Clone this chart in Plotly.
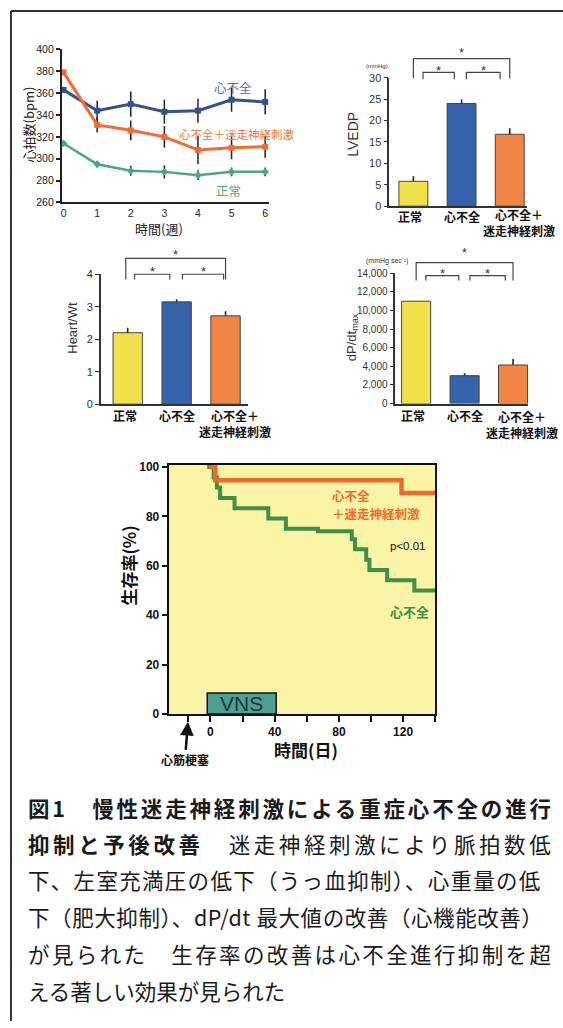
import plotly.graph_objects as go

W, H = 563, 1028
def PX(x): return x / W
def PY(y): return 1 - y / H

# ---------------- data ----------------
weeks = [0, 1, 2, 3, 4, 5, 6]
week_ticks = ["0", "1", "2", "3", "4", "5", "6"]
hr_hf = [363, 344, 350, 343, 344, 354, 352]
hr_hf_sd = [0, 9, 11.5, 11, 11, 11, 11.5]
hr_vns = [379, 331, 326, 320, 308, 310, 311]
hr_vns_sd = [0, 7, 9, 10, 13, 10.5, 10]
hr_norm = [314, 295, 289, 288, 285, 288, 288]
hr_norm_sd = [0, 3, 4.5, 6, 4.5, 4, 4]

groups = ["正常", "心不全", "心不全＋<br>迷走神経刺激"]
group_pos = [0, 1, 2]
lvedp = [5.8, 24.0, 16.8]
lvedp_sd = [1.2, 0.9, 1.4]
heart_wt = [2.2, 3.15, 2.72]
heart_wt_sd = [0.15, 0.08, 0.14]
dpdt = [11000, 3000, 4150]
dpdt_sd = [0, 250, 650]

vns_days = [-1, 3, 119, 140]
vns_surv = [100, 94.7, 89.5, 89.5]
hf_days = [-2, 2, 4, 6, 15, 36, 47, 67, 88, 90, 97, 99, 110, 127, 140]
hf_surv = [100, 95.8, 91.7, 87.5, 83.3, 79.2, 75, 74, 70.8, 66.7, 62.5, 58.3, 54.2, 50, 50]
vns_period = [-2, 41]
vns_bar_height = 8.5
mi_day = -14
day_ticks = [0, 40, 80, 120]
day_minor = [-14, 20, 60, 100, 140]

# caption: list of (text, bold) segments per line
caption_lines = [
    [("図1　慢性迷走神経刺激による重症心不全の進行", True)],
    [("抑制と予後改善", True), ("　迷走神経刺激により脈拍数低", False)],
    [("下、左室充満圧の低下（うっ血抑制）、心重量の低", False)],
    [("下（肥大抑制）、dP/dt 最大値の改善（心機能改善）", False)],
    [("が見られた　生存率の改善は心不全進行抑制を超", False)],
    [("える著しい効果が見られた", False)],
]

# ---------------- colours ----------------
C_HF = "#34508f"
C_VNS = "#f26a36"
C_NORM = "#4aa58a"
BAR_COLORS = ["#efe24a", "#3763ad", "#f08545"]
SURV_VNS = "#ee6a2c"
SURV_HF = "#3f8f45"
NARROW = "Liberation Sans Narrow, Liberation Sans, Arial"
ARIAL = "Liberation Sans, Arial"
CJK = "Noto Sans CJK JP"

fig = go.Figure()

# ---- heart rate line chart ----
for ys, sd, col, sym, lw in [
    (hr_norm, hr_norm_sd, C_NORM, "diamond", 2.5),
    (hr_hf, hr_hf_sd, C_HF, "square", 3),
    (hr_vns, hr_vns_sd, C_VNS, "square", 3),
]:
    fig.add_trace(go.Scatter(
        x=weeks, y=ys, mode="lines+markers",
        line=dict(color=col, width=lw),
        marker=dict(symbol=sym, size=6, color=col),
        error_y=dict(type="data", array=sd, width=0, thickness=1.5, color="#222"),
        xaxis="x", yaxis="y", cliponaxis=False, showlegend=False))

# ---- bar charts ----
for vals, sd, ax in [(lvedp, lvedp_sd, "2"), (heart_wt, heart_wt_sd, "3"), (dpdt, dpdt_sd, "4")]:
    fig.add_trace(go.Bar(
        x=group_pos, y=vals, width=0.6,
        marker=dict(color=BAR_COLORS, line=dict(color="#444", width=1)),
        error_y=dict(type="data", symmetric=False, array=sd, arrayminus=[0, 0, 0],
                     width=0, thickness=1.6, color="#222"),
        xaxis="x" + ax, yaxis="y" + ax, showlegend=False))

# ---- survival ----
fig.add_trace(go.Scatter(x=hf_days, y=hf_surv, mode="lines", line=dict(color=SURV_HF, width=4, shape="hv"),
                         xaxis="x5", yaxis="y5", showlegend=False))
fig.add_trace(go.Scatter(x=vns_days, y=vns_surv, mode="lines", line=dict(color=SURV_VNS, width=4.5, shape="hv"),
                         xaxis="x5", yaxis="y5", showlegend=False))

def base_axis(**kw):
    d = dict(showgrid=False, zeroline=False, showline=True, linecolor="#333", linewidth=1.5)
    d.update(kw)
    return d

layout = dict(
    width=W, height=H, margin=dict(l=0, r=0, t=0, b=0),
    paper_bgcolor="white", plot_bgcolor="rgba(0,0,0,0)", showlegend=False,
    font=dict(family=CJK, color="#222"),
    xaxis=base_axis(domain=[PX(61), PX(268)], range=[-0.05, 6.1], anchor="y", linewidth=2, linecolor="#222",
                    tickvals=weeks, ticktext=week_ticks, ticks="", ticklen=0,
                    tickfont=dict(family=NARROW, size=10.5, color="#222")),
    yaxis=base_axis(domain=[PY(199), PY(44)], range=[260, 400], dtick=20, anchor="x", linewidth=2, linecolor="#222",
                    ticks="outside", ticklen=4, tickwidth=1.5, tickcolor="#222",
                    tickfont=dict(family=NARROW, size=10.5, color="#222")),
    xaxis2=base_axis(domain=[PX(389), PX(527)], range=[-0.5, 2.36], anchor="y2", showticklabels=False, ticks=""),
    yaxis2=base_axis(domain=[PY(202.7), PY(72.7)], range=[0, 30], dtick=5, anchor="x2",
                     ticks="outside", ticklen=4, tickcolor="#333", tickfont=dict(family=ARIAL, size=11, color="#333")),
    xaxis3=base_axis(domain=[PX(100), PX(247)], range=[-0.55, 2.45], anchor="y3", showticklabels=False, ticks=""),
    yaxis3=base_axis(domain=[PY(403.3), PY(271.7)], range=[0, 4], dtick=1, anchor="x3",
                     ticks="outside", ticklen=4, tickcolor="#333", tickfont=dict(family=ARIAL, size=11, color="#333")),
    xaxis4=base_axis(domain=[PX(395), PX(528)], range=[-0.43, 2.31], anchor="y4", showticklabels=False, ticks=""),
    yaxis4=base_axis(domain=[PY(402.7), PY(270.7)], range=[0, 14000], dtick=2000, tickformat=",d", anchor="x4",
                     ticks="outside", ticklen=4, tickcolor="#333", tickfont=dict(family=ARIAL, size=10, color="#333")),
    xaxis5=base_axis(domain=[PX(168), PX(435)], range=[-26, 140], anchor="y5", mirror=True, linewidth=2, linecolor="#111",
                     tickvals=day_ticks, ticks="outside", ticklen=6, tickwidth=2, tickcolor="#111",
                     minor=dict(tickvals=day_minor, ticks="outside", ticklen=6, tickwidth=2, tickcolor="#111"),
                     tickfont=dict(family=ARIAL, size=12, color="#111", weight="bold")),
    yaxis5=base_axis(domain=[PY(717), PY(465)], range=[0, 100.8], anchor="x5", mirror=True, linewidth=2, linecolor="#111",
                     tickvals=[0, 20, 40, 60, 80, 100], ticks="outside", ticklen=5, tickwidth=2, tickcolor="#111",
                     tickfont=dict(family=ARIAL, size=12, color="#111", weight="bold")),
)
fig.update_layout(**layout)

shapes = []
ann = []

# page frame
shapes.append(dict(type="line", xref="paper", yref="paper", x0=PX(10), x1=1, y0=PY(5), y1=PY(5), line=dict(color="#333", width=2)))
shapes.append(dict(type="line", xref="paper", yref="paper", x0=PX(10), x1=PX(10), y0=PY(5), y1=0, line=dict(color="#333", width=2)))

# survival background & VNS box
shapes.append(dict(type="rect", xref="x5 domain", yref="y5 domain", x0=0, x1=1, y0=0, y1=1,
                   fillcolor="#faf5a6", line=dict(width=0), layer="below"))
shapes.append(dict(type="rect", xref="x5", yref="y5", x0=vns_period[0], x1=vns_period[1], y0=0, y1=vns_bar_height,
                   fillcolor="#4f9e90", line=dict(color="#111", width=1.5), layer="above"))
ann.append(dict(xref="x5", yref="y5", x=(vns_period[0] + vns_period[1]) / 2, y=vns_bar_height / 2, text="VNS",
                xanchor="center", yanchor="middle",
                showarrow=False, font=dict(family=ARIAL, size=21, color="#173a3c")))

# brackets
def bracket(ax, x0, x1, yt, yb, star_y):
    shapes.append(dict(type="path", xref="x" + ax, yref="paper",
                       path=f"M {x0},{PY(yb)} L {x0},{PY(yt)} L {x1},{PY(yt)} L {x1},{PY(yb)}",
                       line=dict(color="#444", width=1.2)))
    ann.append(dict(xref="x" + ax, yref="paper", x=(x0 + x1) / 2, y=PY(star_y), text="*", showarrow=False,
                    xanchor="center", yanchor="middle",
                    font=dict(family=ARIAL, size=13, color="#333")))

bracket("2", 0, 2, 53.3, 73.3, 47)
bracket("2", 0.2, 0.85, 67.3, 74.3, 65)
bracket("2", 1.1, 1.8, 67.3, 74.3, 65)
bracket("3", -0.04, 2, 255.7, 277, 252)
bracket("3", 0.14, 0.86, 271.7, 277, 269)
bracket("3", 1.12, 1.96, 271.7, 277, 269)
bracket("4", 0, 2, 260, 278, 250)
bracket("4", 0.2, 0.88, 273, 278, 271)
bracket("4", 1.11, 1.84, 273, 278, 271)

# category labels
for ax, y1, y2 in [("2", 213, 225), ("3", 415, 431.5), ("4", 415, 432)]:
    lab = dict(size=12, family=CJK, color="#111", weight="bold")
    common = dict(xref="x" + ax, yref="paper", showarrow=False, font=lab, xanchor="center", yanchor="middle")
    ann.append(dict(x=0, y=PY(y1), text=groups[0], xshift=-3, **common))
    ann.append(dict(x=1, y=PY(y1), text=groups[1], **common))
    ann.append(dict(x=2, y=PY((y1 + y2) / 2), text=groups[2], xshift=9, **common))

def txt(x, y, text, size, color="#222", family=CJK, angle=0, weight="normal", xanchor="center", align="center"):
    ann.append(dict(xref="paper", yref="paper", x=PX(x), y=PY(y), text=text, showarrow=False, textangle=angle,
                    xanchor=xanchor, yanchor="middle", align=align,
                    font=dict(size=size, color=color, family=family, weight=weight)))

# line chart texts
txt(28, 120, "心拍数(bpm)", 13, angle=-90)
txt(158, 225, "時間(週)", 13)
txt(232, 83, "心不全", 12.5, color="#4a6cb0")
txt(236, 130, "心不全＋迷走神経刺激", 11.5, color="#f07838")
txt(228, 187, "正常", 12.5, color="#55a878")

# bar chart titles
txt(353, 130, "LVEDP", 14, color="#333", family=ARIAL, angle=-90)
txt(377, 61, "(mmHg)", 6, color="#333", family=ARIAL)
txt(72, 326, "Heart/Wt", 13, color="#333", family=ARIAL, angle=-90)
txt(352, 335, "dP/dt<sub>max</sub>", 13, color="#333", family=ARIAL, angle=-90)
txt(387, 258, "(mmHg sec⁻¹)", 7, color="#333", family=ARIAL)

# survival texts
txt(128, 567, "生存率(%)", 17, color="#111", angle=-90, weight="bold")
txt(306, 753, "時間(日)", 17, color="#111", weight="bold")
txt(330, 496, "心不全", 12.5, color="#ef6a30", weight="bold", xanchor="left")
txt(330, 514, "＋迷走神経刺激", 12.5, color="#ef6a30", weight="bold", xanchor="left")
txt(408, 547, "p<0.01", 11.5, color="#111", family=ARIAL)
txt(409, 613, "心不全", 13, color=SURV_HF, weight="bold")
ann.append(dict(xref="x5", yref="paper", x=mi_day, y=PY(725), ax=-3, ay=38, text="心筋梗塞", showarrow=True,
                xanchor="center", yanchor="middle",
                arrowhead=2, arrowsize=1.1, arrowwidth=2.5, arrowcolor="#111",
                font=dict(size=12, color="#111", family=CJK, weight="bold")))

# caption (justified with letter spacing)
FS = 21.5
def em_width(plain):
    w = 0
    for ch in plain:
        if ord(ch) >= 0x2000:
            w += 1.0
        elif ch == " ":
            w += 0.22
        elif ch in "/t":
            w += 0.36
        else:
            w += 0.56
    return w

caption_y = [812, 848, 885, 922, 960, 997]
for i, (segs, yy) in enumerate(zip(caption_lines, caption_y)):
    plain = "".join(s for s, _ in segs)
    n = len(plain)
    ls = max(0.0, (523 - em_width(plain) * FS) / (n - 1)) if i < len(caption_lines) - 1 else 0.0
    text = "".join(
        f'<span style="letter-spacing:{ls:.2f}px;font-weight:{"bold" if b else "normal"}">{s}</span>'
        for s, b in segs)
    ann.append(dict(xref="paper", yref="paper", x=PX(25), y=PY(yy), xanchor="left", yanchor="middle",
                    text=text, showarrow=False, font=dict(size=FS, family=CJK, color="#1a1a1a")))

fig.update_layout(shapes=shapes, annotations=ann)
fig.write_html("out.html")
